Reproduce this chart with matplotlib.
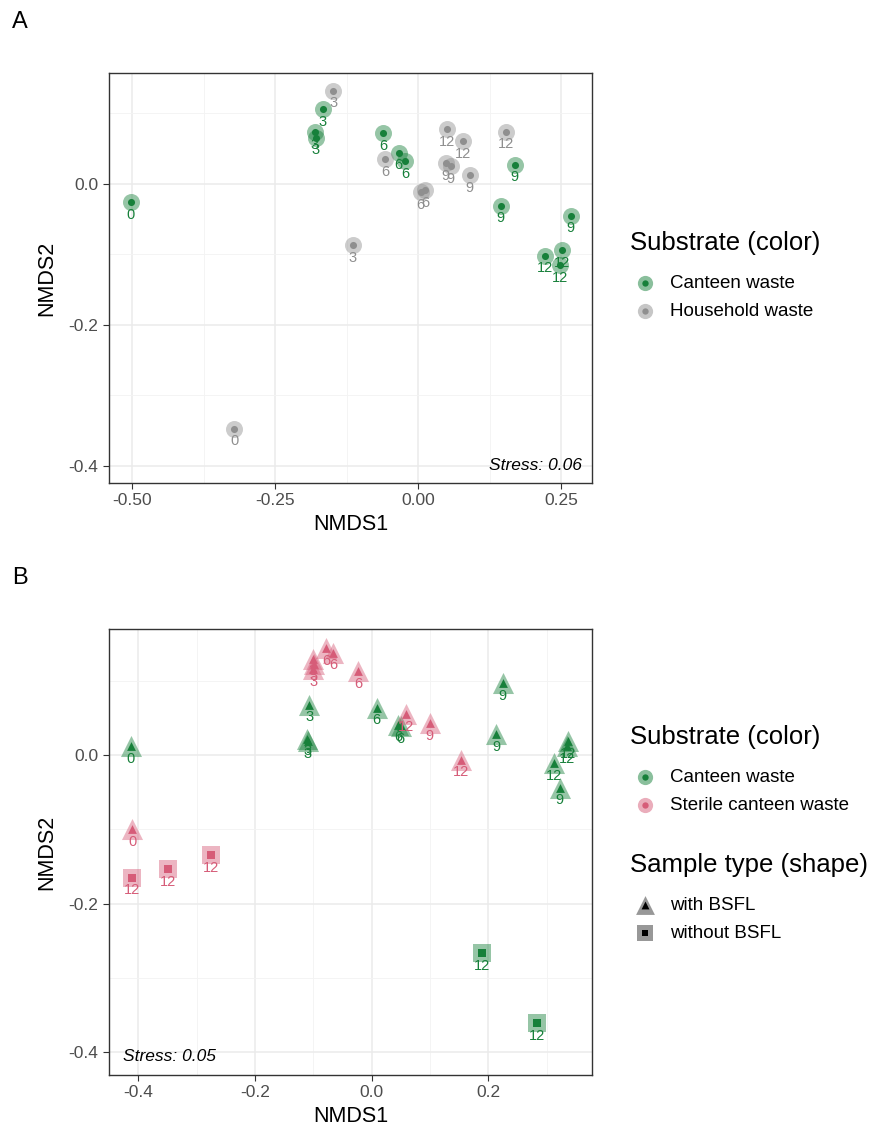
import matplotlib
matplotlib.use("Agg")
from matplotlib import pyplot as plt
from matplotlib.ticker import MultipleLocator

plt.rcParams["font.family"] = ["Liberation Sans", "DejaVu Sans"]

# Panel A: substrate comparison (all with BSFL)
a_x = [-0.503, -0.167, -0.181, -0.179, -0.061, -0.034, -0.023, 0.144, 0.169, 0.267, 0.222, 0.251, 0.248,
       -0.322, -0.149, -0.115, -0.058, 0.004, 0.012, 0.048, 0.057, 0.090, 0.051, 0.079, 0.153]
a_y = [-0.026, 0.106, 0.073, 0.065, 0.072, 0.044, 0.032, -0.031, 0.027, -0.045, -0.102, -0.094, -0.115,
       -0.347, 0.132, -0.087, 0.035, -0.012, -0.009, 0.029, 0.025, 0.012, 0.077, 0.060, 0.074]
a_day = ["0", "3", "3", "3", "6", "6", "6", "9", "9", "9", "12", "12", "12",
         "0", "3", "3", "6", "6", "6", "9", "9", "9", "12", "12", "12"]
a_sub = ["Canteen waste"] * 13 + ["Household waste"] * 12

# Panel B: canteen vs sterile canteen, with / without larvae
b_x = [-0.413, -0.107, -0.110, -0.109, 0.009, 0.046, 0.050, 0.225, 0.214, 0.323, 0.313, 0.337, 0.335,
       0.190, 0.283,
       -0.410, -0.101, -0.099, -0.100, -0.078, -0.066, -0.023, 0.100, 0.059, 0.154,
       -0.411, -0.349, -0.276]
b_y = [0.012, 0.068, 0.022, 0.019, 0.064, 0.041, 0.039, 0.097, 0.028, -0.044, -0.011, 0.019, 0.012,
       -0.267, -0.361,
       -0.100, 0.130, 0.123, 0.116, 0.144, 0.138, 0.113, 0.043, 0.055, -0.006,
       -0.165, -0.154, -0.135]
b_day = ["0", "3", "3", "3", "6", "6", "6", "9", "9", "9", "12", "12", "12",
         "12", "12",
         "0", "3", "3", "3", "6", "6", "6", "9", "12", "12",
         "12", "12", "12"]
b_sub = ["Canteen waste"] * 15 + ["Sterile canteen waste"] * 13
b_type = (["with BSFL"] * 13 + ["without BSFL"] * 2 +
          ["with BSFL"] * 10 + ["without BSFL"] * 3)

colores = {"Canteen waste": "#17803a", "Household waste": "#8f8f8f",
           "Sterile canteen waste": "#d65c78"}
formas = {"with BSFL": "^", "without BSFL": "s"}
tam_fuera = {"o": 150, "^": 230, "s": 170}
tam_dentro = {"o": 26, "^": 40, "s": 30}

fig = plt.figure(figsize=(8.86, 11.42), dpi=100)
ax1 = fig.add_axes([109 / 886, 1 - 483 / 1142, 483 / 886, 410 / 1142])
ax2 = fig.add_axes([109 / 886, 1 - 1075 / 1142, 483 / 886, 446 / 1142])
# capa en pixeles para las leyendas
axl = fig.add_axes([0, 0, 1, 1], zorder=-1)
axl.set_xlim(0, 886)
axl.set_ylim(1142, 0)
axl.axis("off")


def dibujar(ax, xs, ys, dias, subs, tipos):
    for x, y, d, s, t in zip(xs, ys, dias, subs, tipos):
        c = colores[s]
        m = formas.get(t, "o")
        ax.scatter(x, y, s=tam_fuera[m], marker=m, color=c, alpha=0.45, linewidths=0, zorder=3)
        ax.scatter(x, y, s=tam_dentro[m], marker=m, color=c, linewidths=0, zorder=4)
        ax.annotate(d, (x, y), xytext=(0, -4), textcoords="offset points",
                    ha="center", va="top", fontsize=10.5, color=c, zorder=5)


def estilo(ax):
    ax.grid(True, which="major", color="#ebebeb", linewidth=1.1, zorder=0)
    ax.grid(True, which="minor", color="#f3f3f3", linewidth=0.6, zorder=0)
    for sp in ax.spines.values():
        sp.set_color("#333333")
        sp.set_linewidth(1.0)
    ax.tick_params(which="major", length=4, color="#333333", labelsize=12.5, labelcolor="#4d4d4d")
    ax.tick_params(which="minor", length=0)
    ax.set_xlabel("NMDS1", fontsize=15.5, labelpad=4)
    ax.set_ylabel("NMDS2", fontsize=15.5, labelpad=8)


def leyenda(x, y, titulo, etiquetas, marcas, cols, inner_cols):
    axl.text(x, y, titulo, fontsize=18.5, ha="left", va="center")
    for i, (lab, m, c, ci) in enumerate(zip(etiquetas, marcas, cols, inner_cols)):
        yy = y + 40 + 28 * i
        axl.scatter(x + 15, yy, s=tam_fuera[m] * 0.8, marker=m, color=c, alpha=0.5, linewidths=0)
        axl.scatter(x + 15, yy, s=tam_dentro[m] * 0.8, marker=m, color=ci, linewidths=0)
        axl.text(x + 40, yy, lab, fontsize=13.5, ha="left", va="center")


dibujar(ax1, a_x, a_y, a_day, a_sub, [None] * len(a_x))
ax1.set_xlim(-0.541, 0.304)
ax1.set_ylim(-0.424, 0.157)
ax1.xaxis.set_minor_locator(MultipleLocator(0.125))
ax1.yaxis.set_minor_locator(MultipleLocator(0.1))
ax1.set_xticks([-0.5, -0.25, 0, 0.25])
ax1.set_xticklabels(["-0.50", "-0.25", "0.00", "0.25"])
ax1.set_yticks([-0.4, -0.2, 0.0])
ax1.set_yticklabels(["-0.4", "-0.2", "0.0"])
estilo(ax1)
ax1.text(0.98, 0.025, "Stress: 0.06", transform=ax1.transAxes, ha="right", va="bottom",
         fontsize=12.5, style="italic")

dibujar(ax2, b_x, b_y, b_day, b_sub, b_type)
ax2.set_xlim(-0.450, 0.378)
ax2.set_ylim(-0.431, 0.170)
ax2.xaxis.set_minor_locator(MultipleLocator(0.1))
ax2.yaxis.set_minor_locator(MultipleLocator(0.1))
ax2.set_xticks([-0.4, -0.2, 0.0, 0.2])
ax2.set_xticklabels(["-0.4", "-0.2", "0.0", "0.2"])
ax2.set_yticks([-0.4, -0.2, 0.0])
ax2.set_yticklabels(["-0.4", "-0.2", "0.0"])
estilo(ax2)
ax2.text(0.03, 0.025, "Stress: 0.05", transform=ax2.transAxes, ha="left", va="bottom",
         fontsize=12.5, style="italic")

fig.text(12 / 886, 1 - 22 / 1142, "A", fontsize=17, va="center")
fig.text(12 / 886, 1 - 578 / 1142, "B", fontsize=17, va="center")

leyenda(630, 243, "Substrate (color)", ["Canteen waste", "Household waste"], ["o", "o"],
        [colores["Canteen waste"], colores["Household waste"]],
        [colores["Canteen waste"], colores["Household waste"]])
leyenda(630, 737, "Substrate (color)", ["Canteen waste", "Sterile canteen waste"], ["o", "o"],
        [colores["Canteen waste"], colores["Sterile canteen waste"]],
        [colores["Canteen waste"], colores["Sterile canteen waste"]])
leyenda(630, 865, "Sample type (shape)", ["with BSFL", "without BSFL"], ["^", "s"],
        ["#333333", "#333333"], ["#000000", "#000000"])

fig.savefig("out.png", dpi=100)
